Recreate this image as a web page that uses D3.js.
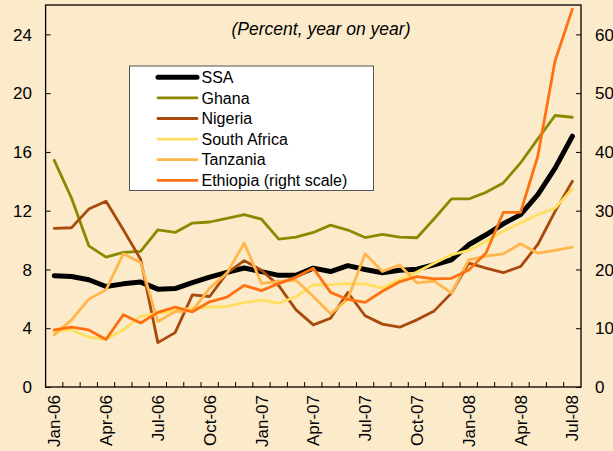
<!DOCTYPE html>
<html>
<head>
<meta charset="utf-8">
<script src="https://cdnjs.cloudflare.com/ajax/libs/d3/7.8.5/d3.min.js"></script>
<style>
    body { margin: 0; background: #fcebcb; }
    text { font-family: "Liberation Sans", Arial, sans-serif; fill: #000; }
</style>
</head>
<body>
<div id="chart-container"></div>
<script>
var months = ["Jan-06", "Feb-06", "Mar-06", "Apr-06", "May-06", "Jun-06", "Jul-06", "Aug-06", "Sep-06", "Oct-06", "Nov-06", "Dec-06",
    "Jan-07", "Feb-07", "Mar-07", "Apr-07", "May-07", "Jun-07", "Jul-07", "Aug-07", "Sep-07", "Oct-07", "Nov-07", "Dec-07",
    "Jan-08", "Feb-08", "Mar-08", "Apr-08", "May-08", "Jun-08", "Jul-08"];
var monthLabels = ["Jan-06", "Apr-06", "Jul-06", "Oct-06", "Jan-07", "Apr-07", "Jul-07", "Oct-07", "Jan-08", "Apr-08", "Jul-08"];
var leftTicks = [0, 4, 8, 12, 16, 20, 24];
var rightTicks = [0, 10, 20, 30, 40, 50, 60];

var ssa = [7.57, 7.52, 7.3, 6.84, 7.02, 7.14, 6.66, 6.7, 7.11, 7.48, 7.8, 8.1, 7.85, 7.6, 7.6, 8.09, 7.86, 8.26, 8.0, 7.78, 7.95,
    8.02, 8.32, 8.66, 9.68, 10.36, 11.11, 11.73, 13.09, 14.9, 17.07];
var ghana = [15.43, 12.86, 9.61, 8.84, 9.16, 9.23, 10.7, 10.52, 11.16, 11.23, 11.48, 11.73, 11.42, 10.07, 10.2, 10.52, 11.02, 10.68,
    10.17, 10.39, 10.2, 10.16, 11.45, 12.8, 12.8, 13.25, 13.89, 15.25, 16.89, 18.48, 18.36];
var nigeria = [10.8, 10.84, 12.11, 12.64, 10.7, 8.7, 3.02, 3.7, 6.27, 6.16, 7.75, 8.6, 7.95, 6.9, 5.25, 4.23, 4.68, 6.43, 4.85, 4.28,
    4.07, 4.57, 5.18, 6.39, 8.43, 8.09, 7.78, 8.2, 9.7, 11.95, 14.0];
var southAfrica = [3.77, 3.89, 3.39, 3.25, 3.89, 4.8, 5.02, 5.2, 5.36, 5.43, 5.48, 5.75, 5.92, 5.7, 6.16, 6.95, 6.97, 7.04, 7.02,
    6.73, 7.32, 7.82, 8.43, 9.0, 9.3, 9.9, 10.6, 11.16, 11.73, 12.18, 13.48];
var tanzania = [3.55, 4.57, 5.98, 6.61, 9.07, 8.48, 4.45, 5.14, 5.2, 6.73, 7.75, 9.8, 7.05, 7.18, 7.27, 6.16, 4.98, 6.0, 9.07, 7.86,
    8.31, 7.09, 7.21, 6.39, 8.66, 8.91, 9.06, 9.75, 9.11, 9.3, 9.52];
var ethiopia = [9.7, 10.2, 9.7, 8.1, 12.3, 10.9, 12.7, 13.6, 12.8, 14.5, 15.3, 17.3, 16.4, 17.6, 18.7, 20.2, 16.1, 14.9, 14.4, 16.3,
    17.9, 18.8, 18.4, 18.5, 19.9, 22.8, 29.7, 29.7, 39.3, 55.5, 64.3];

var series = [
    { name: "SSA", values: ssa, color: "#000000", width: 5, axis: "left" },
    { name: "Ghana", values: ghana, color: "#8a8a00", width: 2.8, axis: "left" },
    { name: "Nigeria", values: nigeria, color: "#a84a0c", width: 2.8, axis: "left" },
    { name: "South Africa", values: southAfrica, color: "#ffdf5f", width: 2.8, axis: "left" },
    { name: "Tanzania", values: tanzania, color: "#ffb64a", width: 2.8, axis: "left" },
    { name: "Ethiopia (right scale)", values: ethiopia, color: "#ff7010", width: 2.8, axis: "right" }
];

var width = 613, height = 451;
var plot = { left: 45.6, right: 581, top: 5, bottom: 387 };

var svg = d3.select("#chart-container")
    .append("svg")
    .attr("width", width)
    .attr("height", height);

svg.append("rect")
    .attr("width", width)
    .attr("height", height)
    .attr("fill", "#fcebcb");

var x = d3.scaleBand()
    .domain(months)
    .range([plot.left, plot.right]);

var yLeft = d3.scaleLinear()
    .domain([0, 26])
    .range([plot.bottom, plot.top]);

var yRight = d3.scaleLinear()
    .domain([0, 65])
    .range([plot.bottom, plot.top]);

// left axis, ticks inside
var leftAxis = svg.append("g")
    .attr("transform", "translate(" + plot.left + ",0)")
    .call(d3.axisRight(yLeft).tickValues(leftTicks).tickSize(5).tickFormat(""));
leftAxis.select(".domain").remove();

svg.append("g").selectAll("text")
    .data(leftTicks)
    .enter().append("text")
    .attr("x", 32)
    .attr("y", function(d) { return yLeft(d); })
    .attr("dy", "0.36em")
    .attr("text-anchor", "end")
    .style("font-size", "17px")
    .text(function(d) { return d; });

var rightAxis = svg.append("g")
    .attr("transform", "translate(" + plot.right + ",0)")
    .call(d3.axisLeft(yRight).tickValues(rightTicks).tickSize(5).tickFormat(""));
rightAxis.select(".domain").remove();

svg.append("g").selectAll("text")
    .data(rightTicks)
    .enter().append("text")
    .attr("x", 595)
    .attr("y", function(d) { return yRight(d); })
    .attr("dy", "0.36em")
    .attr("text-anchor", "start")
    .style("font-size", "17px")
    .text(function(d) { return d; });

// category ticks sit between months
var bottomAxis = svg.append("g")
    .selectAll("line")
    .data(months.slice(1))
    .enter().append("line")
    .attr("x1", function(d) { return x(d); })
    .attr("x2", function(d) { return x(d); })
    .attr("y1", plot.bottom)
    .attr("y2", plot.bottom - 5)
    .attr("stroke", "#000")
    .attr("stroke-width", 1);

svg.append("g").selectAll("text")
    .data(monthLabels)
    .enter().append("text")
    .attr("transform", function(d) {
        return "translate(" + (x(d) + x.bandwidth() / 2) + "," + (plot.bottom + 8) + ") rotate(-90)";
    })
    .attr("dy", "0.36em")
    .attr("text-anchor", "end")
    .style("font-size", "17px")
    .text(function(d) { return d; });

// frame
svg.append("rect")
    .attr("x", plot.left)
    .attr("y", plot.top)
    .attr("width", plot.right - plot.left)
    .attr("height", plot.bottom - plot.top)
    .attr("fill", "none")
    .attr("stroke", "#000")
    .attr("stroke-width", 1.3);

svg.append("text")
    .attr("x", 321)
    .attr("y", 35)
    .attr("text-anchor", "middle")
    .style("font-size", "17.5px")
    .style("font-style", "italic")
    .text("(Percent, year on year)");

series.forEach(function(s) {
    var yScale = s.axis === "left" ? yLeft : yRight;
    var line = d3.line()
        .x(function(d, i) { return x(months[i]) + x.bandwidth() / 2; })
        .y(function(d) { return yScale(d); });

    svg.append("path")
        .datum(s.values)
        .attr("d", line)
        .attr("fill", "none")
        .attr("stroke", s.color)
        .attr("stroke-width", s.width)
        .attr("stroke-linejoin", "round")
        .attr("stroke-linecap", "round");
});

// legend
var legend = svg.append("g");

legend.append("rect")
    .attr("x", 129.5)
    .attr("y", 66)
    .attr("width", 244)
    .attr("height", 124.5)
    .attr("fill", "#ffffff")
    .attr("stroke", "#555")
    .attr("stroke-width", 1);

var rows = legend.selectAll(".legend-row")
    .data(series)
    .enter().append("g")
    .attr("class", "legend-row")
    .attr("transform", function(d, i) { return "translate(0," + (77.3 + i * 20.6) + ")"; });

rows.append("line")
    .attr("x1", 158)
    .attr("x2", 197)
    .attr("stroke", function(d) { return d.color; })
    .attr("stroke-width", function(d) { return d.width; })
    .attr("stroke-linecap", "round");

rows.append("text")
    .attr("x", 201.5)
    .attr("dy", "0.36em")
    .style("font-size", "16px")
    .text(function(d) { return d.name; });
</script>
</body>
</html>
